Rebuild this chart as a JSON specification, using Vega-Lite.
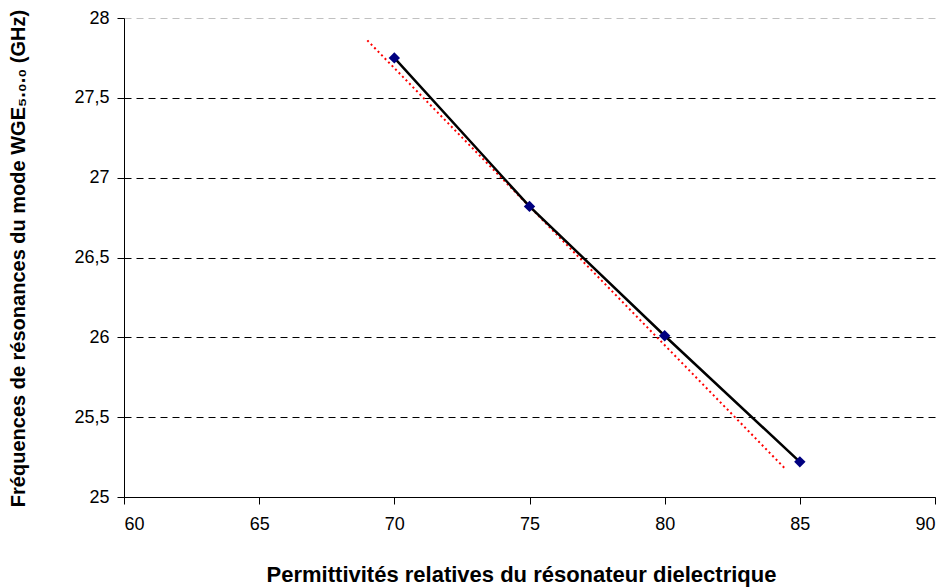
{
  "$schema": "https://vega.github.io/schema/vega-lite/v6.json",
  "width": 811,
  "height": 479,
  "autosize": {"type": "none"},
  "padding": {"left": 124, "top": 18, "right": 15, "bottom": 90},
  "background": "white",
  "config": {
    "view": {"stroke": null},
    "font": "Liberation Sans",
    "axis": {
      "labelFont": "Liberation Sans",
      "titleFont": "Liberation Sans",
      "labelFontSize": 18,
      "labelColor": "#000",
      "titleColor": "#000",
      "domainColor": "#000",
      "tickColor": "#000",
      "tickSize": 7
    }
  },
  "datasets": {
    "measures": [
      {"permittivite": 70, "frequence": 27.75},
      {"permittivite": 75, "frequence": 26.82},
      {"permittivite": 80, "frequence": 26.01},
      {"permittivite": 85, "frequence": 25.22}
    ],
    "tendance": [
      {"permittivite": 69.0, "frequence": 27.86},
      {"permittivite": 84.5, "frequence": 25.17}
    ]
  },
  "layer": [
    {
      "data": {"name": "tendance"},
      "mark": {"type": "line", "color": "#ff0000", "strokeWidth": 2, "strokeDash": [2, 3]},
      "encoding": {
        "x": {
          "field": "permittivite", "type": "quantitative",
          "scale": {"domain": [60, 90], "nice": false, "zero": false},
          "axis": {
            "values": [60, 65, 70, 75, 80, 85, 90],
            "grid": false,
            "labelPadding": 11,
            "title": "Permittivités relatives du résonateur dielectrique",
            "titleFontWeight": "bold",
            "titleFontSize": 22,
            "titleX": 397,
            "titleY": 77,
            "titleAlign": "center",
            "titleBaseline": "middle"
          }
        },
        "y": {
          "field": "frequence", "type": "quantitative",
          "scale": {"domain": [25, 28], "nice": false, "zero": false},
          "axis": {
            "values": [25, 25.5, 26, 26.5, 27, 27.5, 28],
            "labelExpr": "replace(format(datum.value, '~g'), '.', ',')",
            "labelPadding": 8,
            "grid": true,
            "gridColor": {"condition": {"test": "datum.value == 28", "value": "#c0c0c0"}, "value": "#000000"},
            "gridDash": [7, 5],
            "gridWidth": 1,
            "title": "Fréquences de résonances du mode WGE₅.₀.₀ (GHz)",
            "titleFontWeight": "bold",
            "titleFontSize": 20,
            "titleX": -106,
            "titleY": 240,
            "titleAngle": -90,
            "titleAlign": "center",
            "titleBaseline": "middle"
          }
        }
      }
    },
    {
      "data": {"name": "measures"},
      "mark": {"type": "line", "color": "#000000", "strokeWidth": 2.5},
      "encoding": {
        "x": {"field": "permittivite", "type": "quantitative"},
        "y": {"field": "frequence", "type": "quantitative"}
      }
    },
    {
      "data": {"name": "measures"},
      "mark": {"type": "point", "shape": "diamond", "filled": true, "color": "#000080", "size": 130, "opacity": 1},
      "encoding": {
        "x": {"field": "permittivite", "type": "quantitative"},
        "y": {"field": "frequence", "type": "quantitative"}
      }
    }
  ]
}
